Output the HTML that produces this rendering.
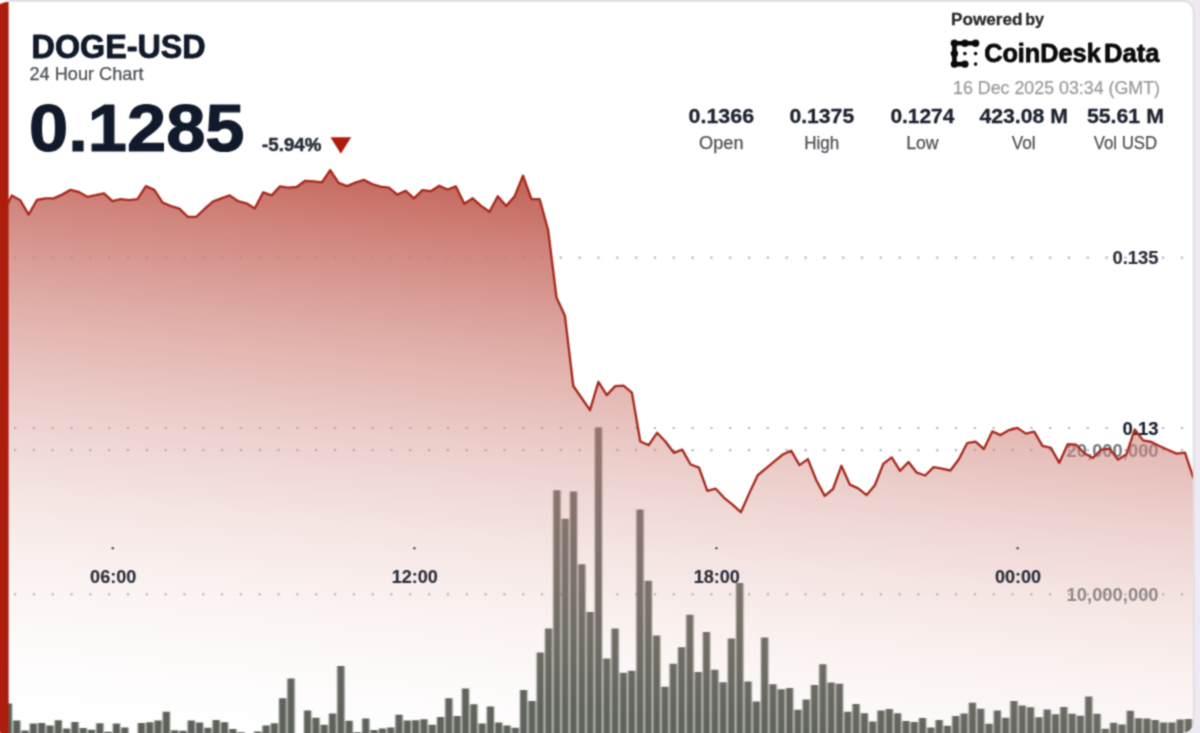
<!DOCTYPE html>
<html lang="en">
<head>
<meta charset="utf-8">
<title>DOGE-USD 24 Hour Chart</title>
<style>
html,body{margin:0;padding:0;background:#eee9f3;}
body{width:1200px;height:733px;overflow:hidden;}
svg{display:block;font-family:"Liberation Sans",sans-serif;}
</style>
</head>
<body>

<svg width="1200" height="733" viewBox="0 0 1200 733">
<defs>
<linearGradient id="ag" gradientUnits="userSpaceOnUse" x1="304.00" y1="168.00" x2="245.38" y2="772.31"><stop offset="0.000" stop-color="rgb(193,96,85)" stop-opacity="0.9500"/><stop offset="0.040" stop-color="rgb(197,104,94)" stop-opacity="0.9248"/><stop offset="0.080" stop-color="rgb(200,113,103)" stop-opacity="0.8995"/><stop offset="0.120" stop-color="rgb(203,120,110)" stop-opacity="0.8672"/><stop offset="0.160" stop-color="rgb(204,123,114)" stop-opacity="0.8105"/><stop offset="0.200" stop-color="rgb(205,127,118)" stop-opacity="0.7537"/><stop offset="0.240" stop-color="rgb(206,130,121)" stop-opacity="0.6970"/><stop offset="0.280" stop-color="rgb(208,133,124)" stop-opacity="0.6402"/><stop offset="0.320" stop-color="rgb(209,135,127)" stop-opacity="0.5835"/><stop offset="0.360" stop-color="rgb(209,137,129)" stop-opacity="0.5267"/><stop offset="0.400" stop-color="rgb(210,139,131)" stop-opacity="0.4700"/><stop offset="0.440" stop-color="rgb(212,145,137)" stop-opacity="0.4300"/><stop offset="0.480" stop-color="rgb(214,150,143)" stop-opacity="0.3900"/><stop offset="0.520" stop-color="rgb(216,155,148)" stop-opacity="0.3500"/><stop offset="0.560" stop-color="rgb(218,161,154)" stop-opacity="0.3100"/><stop offset="0.600" stop-color="rgb(221,167,161)" stop-opacity="0.2741"/><stop offset="0.640" stop-color="rgb(223,173,167)" stop-opacity="0.2383"/><stop offset="0.680" stop-color="rgb(225,179,173)" stop-opacity="0.2024"/><stop offset="0.720" stop-color="rgb(227,184,179)" stop-opacity="0.1666"/><stop offset="0.760" stop-color="rgb(229,188,184)" stop-opacity="0.1307"/><stop offset="0.800" stop-color="rgb(230,191,187)" stop-opacity="0.0948"/><stop offset="0.840" stop-color="rgb(230,189,185)" stop-opacity="0.0590"/><stop offset="0.880" stop-color="rgb(234,201,197)" stop-opacity="0.0400"/><stop offset="0.920" stop-color="rgb(241,219,216)" stop-opacity="0.0267"/><stop offset="0.960" stop-color="rgb(248,237,236)" stop-opacity="0.0133"/><stop offset="1.000" stop-color="#ffffff" stop-opacity="0"/></linearGradient>
<clipPath id="cardfull"><path d="M-20 1.8H1182.8a10 10 0 0 1 10 10V723a10 10 0 0 1 -10 10V750H-20Z"/></clipPath>
<filter id="bl" filterUnits="userSpaceOnUse" x="-40" y="-40" width="1280" height="813" color-interpolation-filters="sRGB"><feConvolveMatrix order="3" kernelMatrix="0.0484 0.1232 0.0484 0.1232 0.3136 0.1232 0.0484 0.1232 0.0484" divisor="1" edgeMode="duplicate" preserveAlpha="true"/></filter>
<filter id="bb" filterUnits="userSpaceOnUse" x="-40" y="380" width="1280" height="420" color-interpolation-filters="sRGB"><feConvolveMatrix order="3 1" kernelMatrix="0.25 0.5 0.25" divisor="1" edgeMode="none" preserveAlpha="false"/></filter>
</defs>
<g filter="url(#bl)">
<rect x="-30" y="-30" width="1260" height="793" fill="#eee9f3"/>
<rect x="-20" y="-8" width="1203" height="9" fill="#dedede"/>
<path d="M-20 0H1183a11.5 11.5 0 0 1 11.5 11.5V722a11.5 11.5 0 0 1 -11.5 11.5V750H-20Z" fill="#dedede"/>
<path d="M-20 1.8H1182.8a10 10 0 0 1 10 10V723a10 10 0 0 1 -10 10V750H-20Z" fill="#ffffff"/>
<g clip-path="url(#cardfull)">
<line x1="14.0" x2="560" y1="257.6" y2="257.6" stroke="#8a8a8a" stroke-opacity="0.62" stroke-width="2.2" stroke-dasharray="2.2 16.62"/>
<line x1="559.78" x2="1192" y1="257.6" y2="257.6" stroke="#8a8a8a" stroke-opacity="0.62" stroke-width="2.2" stroke-dasharray="2.2 16.62"/>
<line x1="14.0" x2="1192" y1="428.0" y2="428.0" stroke="#8a8a8a" stroke-opacity="0.62" stroke-width="2.2" stroke-dasharray="2.2 16.62"/>
<line x1="14.0" x2="1192" y1="450.2" y2="450.2" stroke="#8a8a8a" stroke-opacity="0.62" stroke-width="2.2" stroke-dasharray="2.2 16.62"/>
<line x1="14.0" x2="1192" y1="594.3" y2="594.3" stroke="#8a8a8a" stroke-opacity="0.62" stroke-width="2.2" stroke-dasharray="2.2 16.62"/>
<text x="1158.6" y="457.0" font-size="18.8" font-weight="bold" fill="#6f7a80" text-anchor="end" textLength="92" lengthAdjust="spacingAndGlyphs">20,000,000</text>
<text x="1158.6" y="600.8" font-size="18.8" font-weight="bold" fill="#6f7a80" text-anchor="end" textLength="92" lengthAdjust="spacingAndGlyphs">10,000,000</text>
<path d="M4.84 745V703.5h7.2V745ZM13.15 745V720.5h7.2V745ZM21.46 745V730.5h7.2V745ZM29.77 745V723.5h7.2V745ZM38.08 745V723.0h7.2V745ZM46.39 745V725.5h7.2V745ZM54.70 745V720.3h7.2V745ZM63.01 745V728.5h7.2V745ZM71.32 745V722.0h7.2V745ZM79.63 745V728.0h7.2V745ZM87.94 745V729.7h7.2V745ZM96.25 745V723.2h7.2V745ZM104.56 745V731.8h7.2V745ZM112.87 745V723.5h7.2V745ZM121.18 745V727.5h7.2V745ZM137.80 745V723.0h7.2V745ZM146.11 745V722.2h7.2V745ZM154.42 745V720.5h7.2V745ZM162.73 745V711.8h7.2V745ZM171.04 745V730.3h7.2V745ZM179.35 745V730.8h7.2V745ZM187.66 745V720.5h7.2V745ZM195.97 745V722.5h7.2V745ZM204.28 745V727.8h7.2V745ZM212.59 745V720.0h7.2V745ZM220.90 745V722.2h7.2V745ZM229.21 745V729.0h7.2V745ZM237.52 745V732.2h7.2V745ZM254.14 745V731.5h7.2V745ZM262.45 745V725.5h7.2V745ZM270.76 745V723.2h7.2V745ZM279.07 745V698.2h7.2V745ZM287.38 745V678.5h7.2V745ZM304.00 745V710.5h7.2V745ZM312.31 745V717.8h7.2V745ZM320.62 745V724.8h7.2V745ZM328.93 745V713.5h7.2V745ZM337.24 745V666.1h7.2V745ZM345.55 745V720.8h7.2V745ZM353.86 745V732.2h7.2V745ZM362.17 745V718.5h7.2V745ZM370.48 745V730.0h7.2V745ZM378.79 745V728.5h7.2V745ZM387.10 745V727.5h7.2V745ZM395.41 745V714.8h7.2V745ZM403.72 745V720.5h7.2V745ZM412.03 745V720.3h7.2V745ZM420.34 745V719.2h7.2V745ZM428.65 745V724.8h7.2V745ZM436.96 745V717.0h7.2V745ZM445.27 745V698.2h7.2V745ZM453.58 745V716.0h7.2V745ZM461.89 745V688.5h7.2V745ZM470.20 745V704.2h7.2V745ZM478.51 745V723.5h7.2V745ZM486.82 745V706.5h7.2V745ZM495.13 745V722.5h7.2V745ZM503.44 745V725.5h7.2V745ZM511.75 745V727.8h7.2V745ZM520.06 745V690.0h7.2V745ZM528.37 745V701.0h7.2V745ZM536.68 745V652.5h7.2V745ZM544.99 745V628.4h7.2V745ZM553.30 745V490.3h7.2V745ZM561.61 745V518.7h7.2V745ZM569.92 745V491.6h7.2V745ZM578.23 745V564.2h7.2V745ZM586.54 745V611.9h7.2V745ZM594.85 745V427.6h7.2V745ZM603.16 745V658.6h7.2V745ZM611.47 745V628.4h7.2V745ZM619.78 745V672.7h7.2V745ZM628.09 745V670.8h7.2V745ZM636.40 745V509.5h7.2V745ZM644.71 745V580.8h7.2V745ZM653.02 745V635.5h7.2V745ZM661.33 745V686.7h7.2V745ZM669.64 745V663.8h7.2V745ZM677.95 745V647.3h7.2V745ZM686.26 745V614.7h7.2V745ZM694.57 745V672.0h7.2V745ZM702.88 745V631.9h7.2V745ZM711.19 745V669.7h7.2V745ZM719.50 745V682.2h7.2V745ZM727.81 745V638.5h7.2V745ZM736.12 745V583.1h7.2V745ZM744.43 745V681.5h7.2V745ZM752.74 745V701.5h7.2V745ZM761.05 745V637.4h7.2V745ZM769.36 745V684.3h7.2V745ZM777.67 745V689.2h7.2V745ZM785.98 745V688.1h7.2V745ZM794.29 745V709.8h7.2V745ZM802.60 745V699.6h7.2V745ZM810.91 745V685.0h7.2V745ZM819.22 745V664.2h7.2V745ZM827.53 745V682.6h7.2V745ZM835.84 745V683.8h7.2V745ZM844.15 745V711.7h7.2V745ZM852.46 745V703.9h7.2V745ZM860.77 745V713.3h7.2V745ZM869.08 745V721.6h7.2V745ZM877.39 745V710.5h7.2V745ZM885.70 745V709.1h7.2V745ZM894.01 745V713.3h7.2V745ZM902.32 745V721.1h7.2V745ZM910.63 745V722.0h7.2V745ZM918.94 745V718.0h7.2V745ZM927.25 745V727.5h7.2V745ZM935.56 745V719.9h7.2V745ZM943.87 745V725.7h7.2V745ZM952.18 745V716.0h7.2V745ZM960.49 745V713.5h7.2V745ZM968.80 745V702.8h7.2V745ZM977.11 745V708.7h7.2V745ZM985.42 745V723.8h7.2V745ZM993.73 745V710.5h7.2V745ZM1002.04 745V717.8h7.2V745ZM1010.35 745V701.0h7.2V745ZM1018.66 745V705.5h7.2V745ZM1026.97 745V707.2h7.2V745ZM1035.28 745V717.2h7.2V745ZM1043.59 745V709.5h7.2V745ZM1051.90 745V714.2h7.2V745ZM1060.21 745V707.0h7.2V745ZM1068.52 745V713.7h7.2V745ZM1076.83 745V715.8h7.2V745ZM1085.14 745V696.4h7.2V745ZM1093.45 745V713.7h7.2V745ZM1101.76 745V728.8h7.2V745ZM1110.07 745V722.8h7.2V745ZM1118.38 745V724.4h7.2V745ZM1126.69 745V710.8h7.2V745ZM1135.00 745V718.3h7.2V745ZM1143.31 745V718.6h7.2V745ZM1151.62 745V720.1h7.2V745ZM1159.93 745V722.4h7.2V745ZM1168.24 745V722.4h7.2V745ZM1176.55 745V719.5h7.2V745ZM1184.86 745V718.9h7.2V745Z" fill="#585e56" filter="url(#bb)"/>
<path d="M3.4 213.0 L11.8 195.4 L20.2 200.2 L28.6 214.6 L36.9 200.0 L45.3 198.3 L53.7 198.3 L62.1 194.6 L70.5 189.9 L78.8 192.0 L87.2 196.8 L95.6 195.2 L104.0 193.3 L112.4 201.2 L120.7 199.2 L129.1 200.2 L137.5 199.2 L145.9 186.1 L154.3 189.9 L162.6 202.7 L171.0 206.2 L179.4 208.7 L187.8 216.9 L196.2 216.9 L204.5 209.0 L212.9 201.7 L221.3 198.3 L229.7 195.4 L238.1 201.2 L246.4 203.3 L254.8 208.4 L263.2 192.4 L271.6 195.4 L280.0 186.4 L288.3 187.7 L296.7 187.0 L305.1 180.8 L313.5 181.4 L321.9 182.4 L330.2 170.1 L338.6 182.9 L347.0 186.1 L355.4 182.6 L363.8 179.9 L372.1 184.1 L380.5 186.7 L388.9 187.7 L397.3 194.6 L405.7 190.8 L414.0 198.3 L422.4 190.2 L430.8 191.2 L439.2 185.8 L447.6 189.5 L455.9 186.4 L464.3 203.7 L472.7 198.3 L481.1 205.9 L489.5 211.8 L497.8 196.2 L506.2 205.9 L514.6 196.4 L523.0 175.7 L531.4 199.0 L539.7 199.2 L548.1 230.0 L556.5 297.5 L564.9 315.8 L573.3 386.0 L581.6 398.0 L590.0 410.2 L598.4 381.9 L606.8 395.1 L615.2 386.1 L623.5 385.7 L631.9 392.6 L640.3 441.5 L648.7 445.1 L657.1 432.8 L665.4 441.5 L673.8 452.8 L682.2 449.7 L690.6 464.5 L699.0 467.7 L707.3 490.9 L715.7 488.7 L724.1 497.8 L732.5 504.7 L740.9 512.2 L749.2 493.4 L757.6 475.4 L766.0 468.3 L774.4 461.4 L782.8 454.5 L791.1 450.7 L799.5 465.1 L807.9 459.1 L816.3 480.2 L824.7 495.9 L833.0 489.0 L841.4 465.8 L849.8 484.6 L858.2 488.4 L866.6 495.1 L874.9 485.3 L883.3 463.9 L891.7 457.4 L900.1 470.8 L908.5 462.0 L916.8 472.7 L925.2 475.5 L933.6 467.1 L942.0 468.7 L950.4 470.5 L958.7 459.5 L967.1 443.2 L975.5 441.7 L983.9 449.0 L992.3 431.4 L1000.6 435.1 L1009.0 430.1 L1017.4 427.9 L1025.8 433.6 L1034.2 431.6 L1042.5 445.8 L1050.9 447.9 L1059.3 462.8 L1067.7 444.2 L1076.1 444.7 L1084.4 453.3 L1092.8 458.0 L1101.2 449.6 L1109.6 448.6 L1118.0 459.6 L1126.3 454.6 L1134.7 429.5 L1143.1 440.4 L1151.5 442.0 L1159.9 446.2 L1168.2 450.0 L1176.6 453.7 L1185.0 452.7 L1193.4 477.8 L1193.4 750 L3.4 750Z" fill="url(#ag)"/>
<rect x="111.60000000000001" y="547.3" width="2.4" height="1.9" fill="#3a3f4a"/>
<text x="113.2" y="583.1" font-size="18.8" font-weight="bold" fill="#2b2f3b" text-anchor="middle" textLength="46.2" lengthAdjust="spacingAndGlyphs" stroke="#2b2f3b" stroke-width="0.15" stroke-linejoin="round">06:00</text>
<rect x="413.2" y="547.3" width="2.4" height="1.9" fill="#3a3f4a"/>
<text x="414.8" y="583.1" font-size="18.8" font-weight="bold" fill="#2b2f3b" text-anchor="middle" textLength="46.2" lengthAdjust="spacingAndGlyphs" stroke="#2b2f3b" stroke-width="0.15" stroke-linejoin="round">12:00</text>
<rect x="715.1999999999999" y="547.3" width="2.4" height="1.9" fill="#3a3f4a"/>
<text x="716.8" y="583.1" font-size="18.8" font-weight="bold" fill="#2b2f3b" text-anchor="middle" textLength="46.2" lengthAdjust="spacingAndGlyphs" stroke="#2b2f3b" stroke-width="0.15" stroke-linejoin="round">18:00</text>
<rect x="1016.4" y="547.3" width="2.4" height="1.9" fill="#3a3f4a"/>
<text x="1018.0" y="583.1" font-size="18.8" font-weight="bold" fill="#2b2f3b" text-anchor="middle" textLength="46.2" lengthAdjust="spacingAndGlyphs" stroke="#2b2f3b" stroke-width="0.15" stroke-linejoin="round">00:00</text>
<text x="1158.6" y="264.4" font-size="18.8" font-weight="bold" fill="#2b2f3b" text-anchor="end" textLength="46.2" lengthAdjust="spacingAndGlyphs" stroke="#2b2f3b" stroke-width="0.15" stroke-linejoin="round">0.135</text>
<text x="1158.6" y="434.6" font-size="18.8" font-weight="bold" fill="#1a2030" text-anchor="end" textLength="36" lengthAdjust="spacingAndGlyphs" stroke="#1a2030" stroke-width="0.15" stroke-linejoin="round">0.13</text>
<path d="M3.4 213.0 L11.8 195.4 L20.2 200.2 L28.6 214.6 L36.9 200.0 L45.3 198.3 L53.7 198.3 L62.1 194.6 L70.5 189.9 L78.8 192.0 L87.2 196.8 L95.6 195.2 L104.0 193.3 L112.4 201.2 L120.7 199.2 L129.1 200.2 L137.5 199.2 L145.9 186.1 L154.3 189.9 L162.6 202.7 L171.0 206.2 L179.4 208.7 L187.8 216.9 L196.2 216.9 L204.5 209.0 L212.9 201.7 L221.3 198.3 L229.7 195.4 L238.1 201.2 L246.4 203.3 L254.8 208.4 L263.2 192.4 L271.6 195.4 L280.0 186.4 L288.3 187.7 L296.7 187.0 L305.1 180.8 L313.5 181.4 L321.9 182.4 L330.2 170.1 L338.6 182.9 L347.0 186.1 L355.4 182.6 L363.8 179.9 L372.1 184.1 L380.5 186.7 L388.9 187.7 L397.3 194.6 L405.7 190.8 L414.0 198.3 L422.4 190.2 L430.8 191.2 L439.2 185.8 L447.6 189.5 L455.9 186.4 L464.3 203.7 L472.7 198.3 L481.1 205.9 L489.5 211.8 L497.8 196.2 L506.2 205.9 L514.6 196.4 L523.0 175.7 L531.4 199.0 L539.7 199.2 L548.1 230.0 L556.5 297.5 L564.9 315.8 L573.3 386.0 L581.6 398.0 L590.0 410.2 L598.4 381.9 L606.8 395.1 L615.2 386.1 L623.5 385.7 L631.9 392.6 L640.3 441.5 L648.7 445.1 L657.1 432.8 L665.4 441.5 L673.8 452.8 L682.2 449.7 L690.6 464.5 L699.0 467.7 L707.3 490.9 L715.7 488.7 L724.1 497.8 L732.5 504.7 L740.9 512.2 L749.2 493.4 L757.6 475.4 L766.0 468.3 L774.4 461.4 L782.8 454.5 L791.1 450.7 L799.5 465.1 L807.9 459.1 L816.3 480.2 L824.7 495.9 L833.0 489.0 L841.4 465.8 L849.8 484.6 L858.2 488.4 L866.6 495.1 L874.9 485.3 L883.3 463.9 L891.7 457.4 L900.1 470.8 L908.5 462.0 L916.8 472.7 L925.2 475.5 L933.6 467.1 L942.0 468.7 L950.4 470.5 L958.7 459.5 L967.1 443.2 L975.5 441.7 L983.9 449.0 L992.3 431.4 L1000.6 435.1 L1009.0 430.1 L1017.4 427.9 L1025.8 433.6 L1034.2 431.6 L1042.5 445.8 L1050.9 447.9 L1059.3 462.8 L1067.7 444.2 L1076.1 444.7 L1084.4 453.3 L1092.8 458.0 L1101.2 449.6 L1109.6 448.6 L1118.0 459.6 L1126.3 454.6 L1134.7 429.5 L1143.1 440.4 L1151.5 442.0 L1159.9 446.2 L1168.2 450.0 L1176.6 453.7 L1185.0 452.7 L1193.4 477.8" fill="none" stroke="#a82a1f" stroke-width="2.35" stroke-linejoin="round" stroke-linecap="round"/>
</g>
<rect x="-8" y="-8" width="17" height="12" fill="#fff6f5"/>
<path d="M-6 740V6.2Q-1 4.6 1.5 3.4Q5 1.9 8.6 1.7V740Z" fill="#ad1d0e"/>
<path d="M-3 736V730.2Q0.2 730.8 2.4 736Z" fill="#f7b0a6"/>
<text x="31.6" y="58.0" font-size="32.6" font-weight="bold" fill="#111a2b" text-anchor="start" textLength="174" lengthAdjust="spacingAndGlyphs" stroke="#111a2b" stroke-width="0.9" stroke-linejoin="round">DOGE-USD</text>
<text x="29.5" y="80.4" font-size="18.2" font-weight="normal" fill="#4d5156" text-anchor="start" textLength="114" lengthAdjust="spacingAndGlyphs" stroke="#4d5156" stroke-width="0.25" stroke-linejoin="round">24 Hour Chart</text>
<text x="29.0" y="150.6" font-size="66.6" font-weight="bold" fill="#111a2b" text-anchor="start" textLength="215.5" lengthAdjust="spacingAndGlyphs" stroke="#111a2b" stroke-width="1.2" stroke-linejoin="round">0.1285</text>
<text x="262.0" y="150.6" font-size="17.8" font-weight="bold" fill="#2a303c" text-anchor="start" textLength="59.5" lengthAdjust="spacingAndGlyphs" stroke="#2a303c" stroke-width="0.5" stroke-linejoin="round">-5.94%</text>
<path d="M330.5 137.2H351.2L340.8 153.8Z" fill="#ad1d0e"/>
<text x="951.0" y="25.3" font-size="17.4" font-weight="bold" fill="#2a2a2a" text-anchor="start" textLength="71.6" lengthAdjust="spacingAndGlyphs" stroke="#2a2a2a" stroke-width="0.3" stroke-linejoin="round">Powered</text>
<text x="1025.2" y="25.3" font-size="17.4" font-weight="bold" fill="#2a2a2a" text-anchor="start" textLength="18.8" lengthAdjust="spacingAndGlyphs" stroke="#2a2a2a" stroke-width="0.3" stroke-linejoin="round">by</text>
<g fill="#0b0b0b" stroke="#0b0b0b"><path d="M975.6 43.2H954.4V64.1H964.9" fill="none" stroke-width="4.6" stroke-linecap="round" stroke-linejoin="round"/>
<circle cx="954.4" cy="43.2" r="3.7" stroke="none"/>
<circle cx="964.9" cy="43.2" r="3.7" stroke="none"/>
<circle cx="975.6" cy="43.2" r="3.7" stroke="none"/>
<circle cx="954.4" cy="53.6" r="3.7" stroke="none"/>
<circle cx="954.4" cy="64.1" r="3.7" stroke="none"/>
<circle cx="964.9" cy="64.1" r="3.7" stroke="none"/>
<circle cx="964.9" cy="53.6" r="1.8" stroke="none"/>
<circle cx="975.6" cy="53.6" r="1.8" stroke="none"/>
<circle cx="975.6" cy="64.1" r="1.8" stroke="none"/>
</g>
<text x="984.2" y="62.4" font-size="25.6" font-weight="bold" fill="#0b0b0b" text-anchor="start" textLength="116.5" lengthAdjust="spacingAndGlyphs" stroke="#0b0b0b" stroke-width="0.8" stroke-linejoin="round">CoinDesk</text>
<text x="1104.0" y="62.4" font-size="25.6" font-weight="bold" fill="#0b0b0b" text-anchor="start" textLength="55.5" lengthAdjust="spacingAndGlyphs" stroke="#0b0b0b" stroke-width="0.8" stroke-linejoin="round">Data</text>
<text x="953.0" y="94.0" font-size="18.2" font-weight="normal" fill="#9c9c9c" text-anchor="start" textLength="207" lengthAdjust="spacingAndGlyphs" stroke="#9c9c9c" stroke-width="0.25" stroke-linejoin="round">16 Dec 2025 03:34 (GMT)</text>
<text x="721.3" y="123.2" font-size="20.4" font-weight="bold" fill="#1c2230" text-anchor="middle" textLength="65.5" lengthAdjust="spacingAndGlyphs" stroke="#1c2230" stroke-width="0.3" stroke-linejoin="round">0.1366</text>
<text x="721.3" y="149.2" font-size="18.4" font-weight="normal" fill="#4d5156" text-anchor="middle" textLength="44.5" lengthAdjust="spacingAndGlyphs" stroke="#4d5156" stroke-width="0.25" stroke-linejoin="round">Open</text>
<text x="821.8" y="123.2" font-size="20.4" font-weight="bold" fill="#1c2230" text-anchor="middle" textLength="64.8" lengthAdjust="spacingAndGlyphs" stroke="#1c2230" stroke-width="0.3" stroke-linejoin="round">0.1375</text>
<text x="821.8" y="149.2" font-size="18.4" font-weight="normal" fill="#4d5156" text-anchor="middle" textLength="35" lengthAdjust="spacingAndGlyphs" stroke="#4d5156" stroke-width="0.25" stroke-linejoin="round">High</text>
<text x="922.4" y="123.2" font-size="20.4" font-weight="bold" fill="#1c2230" text-anchor="middle" textLength="64" lengthAdjust="spacingAndGlyphs" stroke="#1c2230" stroke-width="0.3" stroke-linejoin="round">0.1274</text>
<text x="922.4" y="149.2" font-size="18.4" font-weight="normal" fill="#4d5156" text-anchor="middle" textLength="32.5" lengthAdjust="spacingAndGlyphs" stroke="#4d5156" stroke-width="0.25" stroke-linejoin="round">Low</text>
<text x="1023.7" y="123.2" font-size="20.4" font-weight="bold" fill="#1c2230" text-anchor="middle" textLength="88.5" lengthAdjust="spacingAndGlyphs" stroke="#1c2230" stroke-width="0.3" stroke-linejoin="round">423.08 M</text>
<text x="1023.7" y="149.2" font-size="18.4" font-weight="normal" fill="#4d5156" text-anchor="middle" textLength="24" lengthAdjust="spacingAndGlyphs" stroke="#4d5156" stroke-width="0.25" stroke-linejoin="round">Vol</text>
<text x="1125.4" y="123.2" font-size="20.4" font-weight="bold" fill="#1c2230" text-anchor="middle" textLength="77" lengthAdjust="spacingAndGlyphs" stroke="#1c2230" stroke-width="0.3" stroke-linejoin="round">55.61 M</text>
<text x="1125.4" y="149.2" font-size="18.4" font-weight="normal" fill="#4d5156" text-anchor="middle" textLength="63.5" lengthAdjust="spacingAndGlyphs" stroke="#4d5156" stroke-width="0.25" stroke-linejoin="round">Vol USD</text>
</g>
</svg>
</body>
</html>
